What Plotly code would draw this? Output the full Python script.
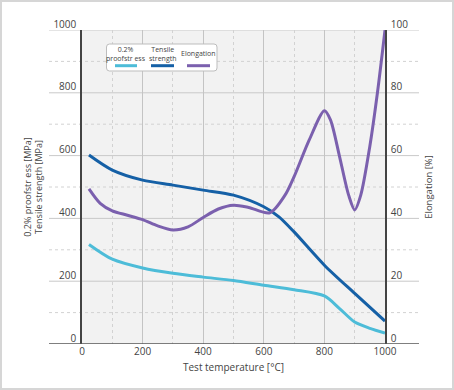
import plotly.graph_objects as go

# ---------------- data ----------------
temp_proof = [23, 100, 200, 300, 400, 500, 600, 700, 800, 850, 900, 950, 1000]
proof_stress = [317, 270, 242, 225, 213, 202, 187, 173, 153, 113, 70, 50, 35]

temp_tensile = [23, 100, 200, 300, 400, 500, 600, 650, 700, 800, 900, 1000]
tensile_strength = [602, 554, 522, 506, 490, 474, 437, 405, 357, 251, 161, 73]

temp_elong = [23, 60, 100, 150, 200, 250, 300, 350, 400, 450, 500, 550, 620, 670,
              700, 750, 800, 820, 850, 880, 900, 920, 950, 975, 1000]
elongation = [49.4, 44.8, 42.4, 41.0, 39.6, 37.6, 36.3, 37.3, 40.3, 43.0, 44.2, 43.5,
              41.8, 47.4, 53.3, 65.0, 74.3, 71.4, 59.7, 47.4, 42.7, 47.4, 63.0, 80.0, 100.0]

x_ticks = [0, 200, 400, 600, 800, 1000]
x_tick_labels = ["0", "200", "400", "600", "800", "1000"]
y_left_ticks = [0, 200, 400, 600, 800, 1000]
y_left_labels = ["0", "200", "400", "600", "800", "1000"]
y_right_ticks = [0, 20, 40, 60, 80, 100]
y_right_labels = ["0", "20", "40", "60", "80", "100"]
y_minor_ticks = [100, 300, 500, 700, 900]

series_names = ["0.2%<br>proofstr ess", "Tensile<br>strength", "Elongation"]
colors = ["#4DBCD8", "#1560A6", "#7B60AE"]

# ---------------- layout geometry ----------------
W, H = 454, 390
L, R, T, B = 82, 69, 30, 46
PW, PH = W - L - R, H - T - B


def px(xp):
    return (xp - L) / PW


def py(yp):
    return (H - B - yp) / PH


FONT = "Open Sans"
TXT = "#444444"

fig = go.Figure()
fig.add_trace(go.Scatter(x=temp_proof, y=proof_stress, mode="lines", name="0.2% proofstress",
                         line=dict(color=colors[0], width=3, shape="spline", smoothing=0.8),
                         showlegend=False))
fig.add_trace(go.Scatter(x=temp_tensile, y=tensile_strength, mode="lines", name="Tensile strength",
                         line=dict(color=colors[1], width=3, shape="spline", smoothing=0.8),
                         showlegend=False))
fig.add_trace(go.Scatter(x=temp_elong, y=elongation, mode="lines", name="Elongation", yaxis="y2",
                         line=dict(color=colors[2], width=3, shape="spline", smoothing=0.8),
                         showlegend=False))

shapes = []
# figure border
shapes.append(dict(type="rect", xref="paper", yref="paper", x0=px(1), x1=px(453), y0=py(389), y1=py(1),
                   line=dict(color="#D6D6D6", width=2), layer="below"))
# horizontal grid lines extending beyond plot
for v in y_left_ticks[1:]:
    shapes.append(dict(type="line", xref="paper", yref="y", x0=px(49), x1=px(419), y0=v, y1=v,
                       line=dict(color="#C9C9C9", width=1), layer="below"))
for v in y_minor_ticks:
    shapes.append(dict(type="line", xref="paper", yref="y", x0=px(49), x1=px(419), y0=v, y1=v,
                       line=dict(color="#D2D2D2", width=1, dash="3px,3px"), layer="below"))
# bottom axis line
shapes.append(dict(type="line", xref="paper", yref="y", x0=px(49), x1=px(419), y0=0, y1=0,
                   line=dict(color="#555555", width=1.5), layer="above"))

# legend box (rounded)
bx0, bx1, by0, by1, r = 106.5, 217, 44, 71, 3
path = (f"M {px(bx0 + r)},{py(by0)} L {px(bx1 - r)},{py(by0)} Q {px(bx1)},{py(by0)} {px(bx1)},{py(by0 + r)} "
        f"L {px(bx1)},{py(by1 - r)} Q {px(bx1)},{py(by1)} {px(bx1 - r)},{py(by1)} "
        f"L {px(bx0 + r)},{py(by1)} Q {px(bx0)},{py(by1)} {px(bx0)},{py(by1 - r)} "
        f"L {px(bx0)},{py(by0 + r)} Q {px(bx0)},{py(by0)} {px(bx0 + r)},{py(by0)} Z")
shapes.append(dict(type="path", xref="paper", yref="paper", path=path, fillcolor="white",
                   line=dict(color="#BDBDBD", width=1), layer="above"))

legend_line_x = [(115, 137), (151, 174), (187, 210)]
legend_text_y = [54, 54, 54]
annotations = []
for (x0, x1), name, c, ty in zip(legend_line_x, series_names, colors, legend_text_y):
    shapes.append(dict(type="line", xref="paper", yref="paper", x0=px(x0), x1=px(x1), y0=py(65.7), y1=py(65.7),
                       line=dict(color=c, width=3), layer="above"))
    annotations.append(dict(xref="paper", yref="paper", x=px((x0 + x1) / 2), y=py(ty), text=name,
                            showarrow=False, font=dict(family=FONT, size=7, color=TXT),
                            xanchor="center", yanchor="middle", align="center"))

fig.update_layout(
    width=W, height=H,
    margin=dict(l=L, r=R, t=T, b=B, autoexpand=False),
    paper_bgcolor="white",
    plot_bgcolor="#F2F2F2",
    font=dict(family=FONT, size=10, color=TXT),
    showlegend=False,
    shapes=shapes,
    annotations=annotations,
    xaxis=dict(range=[0, 1000], tickvals=x_ticks, ticktext=x_tick_labels, showgrid=True,
               gridcolor="#C4C4C4", gridwidth=1, zeroline=False, showline=False, ticks="",
               ticklabelstandoff=0,
               minor=dict(dtick=100, showgrid=True, gridcolor="#D2D2D2", griddash="3px,3px", gridwidth=1),
               title=dict(text="Test temperature [°C]", font=dict(size=10, color=TXT), standoff=6),
               fixedrange=True),
    yaxis=dict(range=[0, 1000], tickvals=y_left_ticks, ticktext=y_left_labels, showgrid=False,
               zeroline=False, showline=True, linecolor="#444444", linewidth=1.5, ticks="",
               ticklabelshift=-6, ticklabelstandoff=2,
               title=dict(text="0.2% proofstr ess [MPa]<br>Tensile strength [MPa]",
                          font=dict(size=9, color=TXT), standoff=9),
               fixedrange=True),
    yaxis2=dict(range=[0, 100], overlaying="y", side="right", tickvals=y_right_ticks,
                ticktext=y_right_labels, showgrid=False, zeroline=False, showline=True,
                linecolor="#444444", linewidth=1.5, ticks="", ticklabelshift=-6, ticklabelstandoff=2,
                title=dict(text="Elongation [%]", font=dict(size=9.5, color=TXT), standoff=18),
                fixedrange=True),
)

fig.write_html("out.html", config={"displayModeBar": False},
               post_script="document.body.style.margin='0';document.body.style.padding='0';")
